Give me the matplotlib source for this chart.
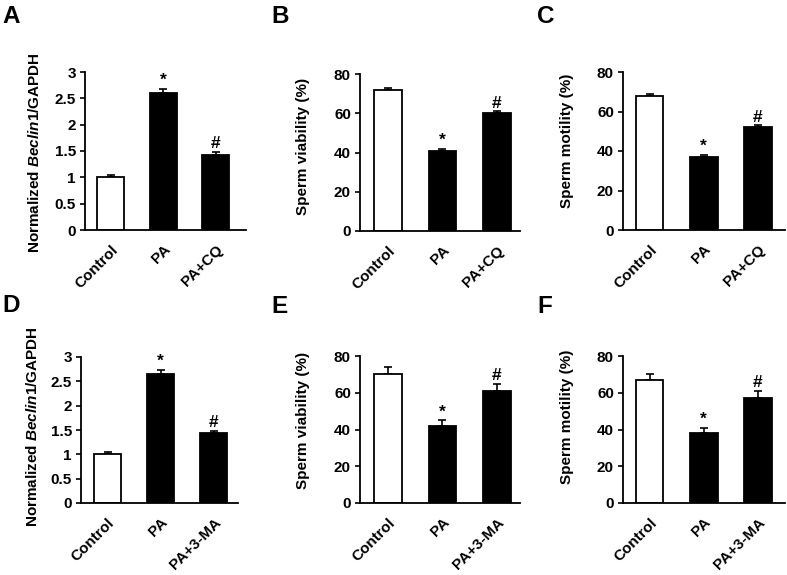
import matplotlib
matplotlib.use("Agg")
import matplotlib.pyplot as plt
import matplotlib.transforms as mtransforms

plt.rcParams['font.family'] = ['Liberation Sans', 'DejaVu Sans']
plt.rcParams['font.weight'] = 'bold'
plt.rcParams['mathtext.fontset'] = 'custom'
plt.rcParams['mathtext.it'] = 'Liberation Sans:italic:bold'
plt.rcParams['mathtext.rm'] = 'Liberation Sans:bold'
plt.rcParams['mathtext.bf'] = 'Liberation Sans:bold'

# ---- data ----
cats_cq = ["Control", "PA", "PA+CQ"]
cats_ma = ["Control", "PA", "PA+3-MA"]

beclin_cq = [1.0, 2.61, 1.43]
beclin_cq_err = [0.04, 0.07, 0.05]
viab_cq = [72, 41, 60]
viab_cq_err = [1, 1, 1]
motil_cq = [68, 37, 52]
motil_cq_err = [1, 1, 1]

beclin_ma = [1.0, 2.66, 1.44]
beclin_ma_err = [0.04, 0.08, 0.04]
viab_ma = [70, 42, 61]
viab_ma_err = [4, 3, 4]
motil_ma = [67, 38, 57]
motil_ma_err = [3, 3, 4]

marks = ["", "*", "#"]

beclin_label = "Normalized $\\mathit{Beclin1}$/GAPDH"
viab_label = "Sperm viability (%)"
motil_label = "Sperm motility (%)"

fig = plt.figure(figsize=(7.87, 5.75), dpi=100)
W, H = 787, 575

def rect(l, r, t, b):
    return [l / W, 1 - b / H, (r - l) / W, (b - t) / H]

beclin_ticks = [0, 0.5, 1, 1.5, 2, 2.5, 3]
beclin_ticklabels = ["0", "0.5", "1", "1.5", "2", "2.5", "3"]
pct_ticks = [0, 20, 40, 60, 80]

panels = [
    ("A", rect(85, 246, 72, 230), cats_cq, beclin_cq, beclin_cq_err, beclin_label, (0, 3), beclin_ticks, beclin_ticklabels, (-0.49, 2.58), (2, 5), (35, 153)),
    ("B", rect(360, 520, 74, 231), cats_cq, viab_cq, viab_cq_err, viab_label, (0, 80), pct_ticks, None, (-0.52, 2.43), (271, 5), (303, 146)),
    ("C", rect(623, 785, 72, 230), cats_cq, motil_cq, motil_cq_err, motil_label, (0, 80), pct_ticks, None, (-0.49, 2.5), (537, 5), (567, 141)),
    ("D", rect(81, 238, 357, 503), cats_ma, beclin_ma, beclin_ma_err, beclin_label, (0, 3), beclin_ticks, beclin_ticklabels, (-0.5, 2.46), (2, 294), (33, 427)),
    ("E", rect(360, 520, 356, 503), cats_ma, viab_ma, viab_ma_err, viab_label, (0, 80), pct_ticks, None, (-0.52, 2.43), (271, 295), (303, 420)),
    ("F", rect(623, 785, 356, 503), cats_ma, motil_ma, motil_ma_err, motil_label, (0, 80), pct_ticks, None, (-0.49, 2.5), (537, 295), (567, 417)),
]

for letter, r, cats, vals, errs, ylabel, ylim, yticks, yticklabels, xlim, lpos, ylpos in panels:
    ax = fig.add_axes(r)
    x = list(range(len(cats)))
    colors = ["white", "black", "black"]
    ax.bar(x, vals, width=0.51, color=colors, edgecolor="black", linewidth=1.3, zorder=2)
    ax.errorbar(x, vals, yerr=[[0] * len(errs), errs], fmt="none", ecolor="black",
                elinewidth=1.2, capsize=3, capthick=1.2, zorder=1)
    span = ylim[1] - ylim[0]
    for xi, v, e, m in zip(x, vals, errs, marks):
        if m:
            ax.text(xi, v + e + span * 0.005, m, ha="center", va="bottom",
                    fontsize=12.5, fontweight="bold")
    ax.set_ylim(*ylim)
    ax.set_xlim(*xlim)
    ax.set_yticks(yticks)
    if yticklabels:
        ax.set_yticklabels(yticklabels)
    ax.set_xticks(x)
    ax.set_xticklabels(cats, rotation=45, ha="right", va="top", rotation_mode="anchor")
    offset = mtransforms.ScaledTranslation(-0.5 / 72, 0, fig.dpi_scale_trans)
    for lab in ax.get_xticklabels():
        lab.set_transform(lab.get_transform() + offset)
        lab.set_fontweight("bold")
    for lab in ax.get_yticklabels():
        lab.set_fontweight("bold")
    ax.tick_params(axis="x", length=0, labelsize=11, pad=9)
    ax.tick_params(axis="y", direction="out", length=3.5, width=1.2, labelsize=11, pad=3)
    for s in ["top", "right"]:
        ax.spines[s].set_visible(False)
    for s in ["left", "bottom"]:
        ax.spines[s].set_linewidth(1.3)
    fig.text(ylpos[0] / W, 1 - ylpos[1] / H, ylabel, rotation=90, ha="center", va="center",
             fontsize=11, fontweight="bold")
    fig.text(lpos[0] / W, 1 - lpos[1] / H, letter, fontsize=17.5, fontweight="bold",
             ha="left", va="top")

fig.savefig("out.png", dpi=100)
